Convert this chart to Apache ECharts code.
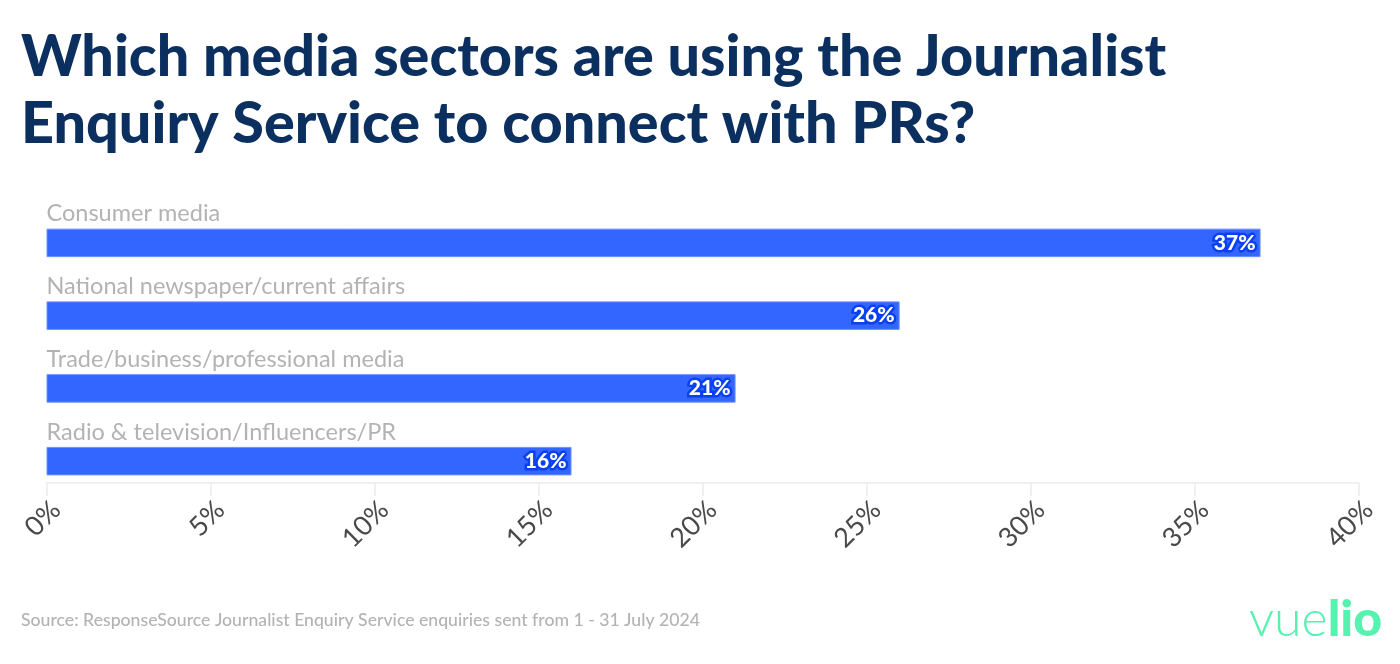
<!DOCTYPE html>
<html><head><meta charset="utf-8">
<style>html,body{margin:0;padding:0;background:#fff}#c{width:1400px;height:664px}</style>
<script src="https://cdn.jsdelivr.net/npm/echarts@6/dist/echarts.min.js"></script></head>
<body><div id="c"></div>
<script>
const categories=["Consumer media","National newspaper/current affairs","Trade/business/professional media","Radio & television/Influencers/PR"];
const values=[37,26,21,16];
const ticks=[0,5,10,15,20,25,30,35,40];
const titleLines="Which media sectors are using the Journalist\nEnquiry Service to connect with PRs?";
const sourceText="Source: ResponseSource Journalist Enquiry Service enquiries sent from 1 - 31 July 2024";
const font="Lato";
const chart=echarts.init(document.getElementById('c'),null,{renderer:'canvas'});
chart.setOption({
 animation:false,
 backgroundColor:'#fff',
 title:{text:titleLines,left:21,top:24,padding:0,textStyle:{fontFamily:font,fontWeight:900,fontSize:57.5,lineHeight:67,color:'#0b2f5f'}},
 graphic:[
  {type:'text',left:21,top:611,style:{text:sourceText,fontFamily:font,fontSize:17.65,fontWeight:500,fill:'#b3b3b3'}},
  {type:'text',left:1249,top:595,style:{text:'{a|vue}{b|lio}',rich:{a:{fontFamily:font,fontSize:50,fontWeight:300,fill:'#55f2b0',color:'#55f2b0'},b:{fontFamily:font,fontSize:50,fontWeight:900,fill:'#55f2b0',color:'#55f2b0'}}}}
 ],
 grid:{left:46.5,right:41,top:206.5,height:291,containLabel:false},
 xAxis:{type:'value',min:0,max:40,interval:5,offset:-14.5,
  axisLine:{show:true,lineStyle:{color:'#ececf0',width:1.5}},splitLine:{show:false},
  axisTick:{show:true,length:13,lineStyle:{color:'#ececf0',width:1.5}},
  axisLabel:{rotate:45,margin:13,verticalAlign:'top',fontFamily:font,fontSize:27,color:'#4a4a4a',formatter:v=>v+'%'}},
 yAxis:{type:'category',inverse:true,data:categories,
  axisLine:{show:false},axisTick:{show:false},
  axisLabel:{show:false}},
 series:[
  {type:'bar',data:values,barWidth:28.5,itemStyle:{color:'#3366ff',borderColor:'#6b8fff',borderWidth:1},
   label:{show:true,position:'insideRight',distance:5,formatter:p=>p.value+'%',fontFamily:font,fontWeight:900,fontSize:21,color:'#fff',textBorderColor:'#0a40f0',textBorderWidth:5}},
  {type:'custom',data:categories.map((c,i)=>[0,i]),silent:true,encode:{x:0,y:1},
   renderItem:(params,api)=>{const p=api.coord([0,api.value(1)]);return {type:'text',x:p[0],y:p[1]-17,style:{text:categories[params.dataIndex],fontFamily:font,fontSize:23.5,fill:'#b3b3b3',textVerticalAlign:'bottom',textAlign:'left'}};}}
 ]
});
</script></body></html>
